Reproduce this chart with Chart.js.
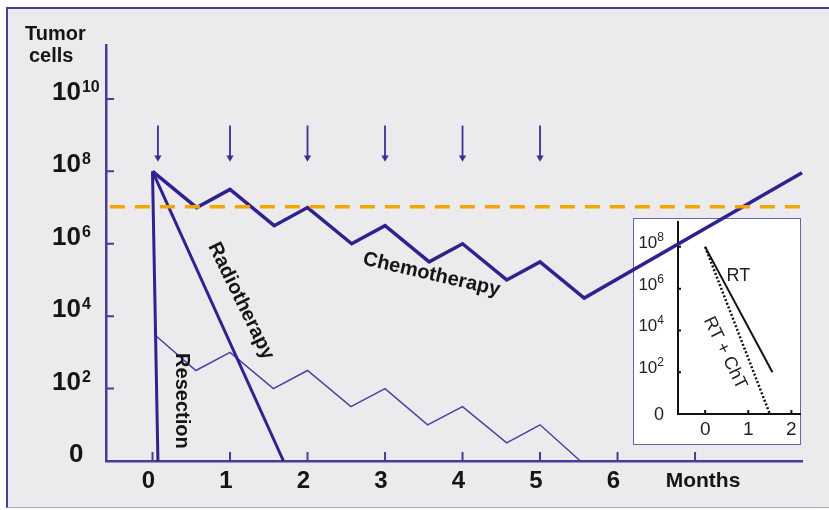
<!DOCTYPE html>
<html>
<head>
<meta charset="utf-8">
<script src="https://cdn.jsdelivr.net/npm/chart.js@4.4.0/dist/chart.umd.min.js"></script>
<style>
  html, body { margin: 0; padding: 0; background: #fff; width: 829px; height: 510px; overflow: hidden; }
  #frame { position: absolute; left: 6px; top: 7px; width: 840px; height: 498px; background: #ebebee;
           border-top: 2px solid #4a3d96; border-left: 2px solid #4a3d96; border-bottom: 1px solid #aaa4c8; }
  #insetBox { position: absolute; left: 633px; top: 218px; width: 166px; height: 225px; background: #fff;
              border: 1px solid #6b60ad; }
  #inset { position: absolute; left: 633px; top: 218px; }
  #main { position: absolute; left: 0; top: 0; }
</style>
</head>
<body>
<div id="frame"></div>
<div id="insetBox"></div>
<canvas id="inset" width="168" height="227"></canvas>
<canvas id="main" width="829" height="510"></canvas>
<script>
// ---- data (months on x, tumor cells as powers of ten on y) ----
const chemoMonths     = [0, 0.57, 1, 1.57, 2, 2.57, 3, 3.57, 4, 4.57, 5, 5.57, 8.38];
const chemoExp        = [8, 7.0, 7.5, 6.5, 7.0, 6.0, 6.5, 5.5, 6.0, 5.0, 5.5, 4.5, 7.96];
const residualMonths  = [0.02, 0.56, 1, 1.56, 2, 2.56, 3, 3.55, 4, 4.57, 5, 5.52];
const residualExp     = [3.5, 2.5, 3.0, 2.0, 2.5, 1.5, 2.0, 1.0, 1.5, 0.5, 1.0, 0];
const resectionMonths = [0, 0.07];
const resectionExp    = [8, 0];
const radioMonths     = [0, 1.69];
const radioExp        = [8, 0];
const thresholdMonths = [-0.55, 8.36];
const thresholdExp    = [7.02, 7.02];
const doseMonths      = [0.07, 1, 2, 3, 4, 5];
const doseExp         = [9.27, 8.38];

const xTickMonths = [0, 1, 2, 3, 4, 5, 6, 7];
const xTickLabels = ['0', '1', '2', '3', '4', '5', '6', ''];
const yTickExp    = [0, 2, 4, 6, 8, 10];

// inset
const rtMonths    = [0, 1.56];
const rtExp       = [8, 2];
const comboMonths = [0, 1.5];
const comboExp    = [8, 0];
const insetXTicks = [0, 1, 2];
const insetYTickExp = [0, 2, 4, 6, 8];

const FONT = '"Liberation Sans", Arial, sans-serif';
const LINE = '#2f2190';
const AXIS = '#4a3d9a';
const INK  = '#151515';

const pts = (xs, es) => xs.map((x, i) => ({ x: x, y: Math.pow(10, es[i]) }));

function lineDs(data, color, width, extra) {
    return Object.assign({
        data: data,
        borderColor: color,
        backgroundColor: color,
        borderWidth: width,
        pointRadius: 0,
        tension: 0,
        clip: false
    }, extra || {});
}

// ---- main chart ----
const datasets = [
    lineDs(pts(thresholdMonths, thresholdExp), '#f5a500', 3.5, { borderDash: [15, 10], order: 0 }),
    lineDs(pts(chemoMonths, chemoExp), LINE, 3.5, { order: 1 }),
    lineDs(pts(radioMonths, radioExp), LINE, 3, { order: 2 }),
    lineDs(pts(resectionMonths, resectionExp), LINE, 3, { order: 2 }),
    lineDs(pts(residualMonths, residualExp), '#4b3fa0', 1.5, { order: 3 })
];
doseMonths.forEach(m => {
    datasets.push(lineDs(pts([m, m], doseExp), '#3b2f94', 1.8, {
        order: 4,
        pointRadius: [0, 4.2],
        pointStyle: 'triangle',
        pointRotation: 180,
        pointBorderWidth: 0
    }));
});

const curveLabels = [
    { text: 'Chemotherapy', month: 3.6, exp: 5.15, angle: 13 },
    { text: 'Radiotherapy', month: 1.14, exp: 4.42, angle: 64 },
    { text: 'Resection', month: 0.38, exp: 1.66, angle: 90 }
];

const mainDecor = {
    id: 'mainDecor',
    afterDraw(chart) {
        const { ctx, scales: { x, y } } = chart;
        ctx.save();
        ctx.strokeStyle = AXIS;
        ctx.lineWidth = 2;
        ctx.beginPath();
        yTickExp.forEach(e => {
            if (e === 0) return;
            const py = y.getPixelForValue(Math.pow(10, e));
            ctx.moveTo(x.left, py); ctx.lineTo(x.left + 8, py);
        });
        xTickMonths.forEach(m => {
            const px = x.getPixelForValue(m);
            ctx.moveTo(px, y.bottom); ctx.lineTo(px, y.bottom - 9);
        });
        ctx.stroke();

        // y tick labels with superscript exponents
        ctx.fillStyle = INK;
        ctx.textAlign = 'left';
        ctx.textBaseline = 'alphabetic';
        yTickExp.forEach(e => {
            const py = y.getPixelForValue(Math.pow(10, e));
            ctx.font = 'bold 26px ' + FONT;
            if (e === 0) {
                ctx.fillText('0', 69, py + 1);
                return;
            }
            ctx.fillText('10', 52, py + 1);
            const w = ctx.measureText('10').width;
            ctx.font = 'bold 16px ' + FONT;
            ctx.fillText(String(e), 52 + w + 1, py - 7);
        });

        // axis titles
        ctx.font = 'bold 20px ' + FONT;
        ctx.fillText('Tumor', 25, 40);
        ctx.fillText('cells', 29, 62);
        ctx.textAlign = 'center';
        ctx.font = 'bold 21px ' + FONT;
        ctx.fillText('Months', x.getPixelForValue(7) + 8, y.bottom + 26);

        // curve labels
        ctx.font = 'bold 20px ' + FONT;
        ctx.textBaseline = 'middle';
        curveLabels.forEach(l => {
            ctx.save();
            ctx.translate(x.getPixelForValue(l.month), y.getPixelForValue(Math.pow(10, l.exp)));
            ctx.rotate(l.angle * Math.PI / 180);
            ctx.fillText(l.text, 0, 0);
            ctx.restore();
        });
        ctx.restore();
    }
};

new Chart(document.getElementById('main'), {
    type: 'line',
    data: { datasets: datasets },
    options: {
        responsive: false,
        animation: false,
        events: [],
        layout: { padding: { top: 45, right: 27, left: 0, bottom: 0 } },
        plugins: { legend: { display: false }, tooltip: { enabled: false } },
        scales: {
            x: {
                type: 'linear',
                min: -0.6,
                max: 8.38,
                grid: { display: false, drawTicks: false },
                border: { display: true, color: AXIS, width: 2.5 },
                afterBuildTicks: s => { s.ticks = xTickMonths.map(v => ({ value: v })); },
                afterFit: s => { s.height = 49; },
                ticks: {
                    autoSkip: false,
                    maxRotation: 0,
                    padding: 6,
                    labelOffset: -4,
                    color: INK,
                    font: { family: FONT, size: 24, weight: 'bold' },
                    callback: v => xTickLabels[xTickMonths.indexOf(v)]
                }
            },
            y: {
                type: 'logarithmic',
                min: 1,
                max: Math.pow(10, 11.49),
                grid: { display: false, drawTicks: false },
                border: { display: true, color: AXIS, width: 2.5 },
                ticks: { display: false },
                afterFit: s => { s.width = 106; }
            }
        }
    },
    plugins: [mainDecor]
});

// ---- inset chart ----
const insetLabels = [
    { text: 'RT', month: 0.77, exp: 6.6, angle: 0 },
    { text: 'RT + ChT', month: 0.46, exp: 2.92, angle: 64 }
];

const insetDecor = {
    id: 'insetDecor',
    afterDraw(chart) {
        const { ctx, scales: { x, y } } = chart;
        ctx.save();
        ctx.strokeStyle = '#111';
        ctx.lineWidth = 2;
        ctx.beginPath();
        insetYTickExp.forEach(e => {
            if (e === 0) return;
            const py = y.getPixelForValue(Math.pow(10, e));
            ctx.moveTo(x.left, py); ctx.lineTo(x.left + 3, py);
        });
        insetXTicks.forEach(m => {
            const px = x.getPixelForValue(m);
            ctx.moveTo(px, y.bottom); ctx.lineTo(px, y.bottom - 4);
        });
        ctx.stroke();

        ctx.fillStyle = '#222';
        ctx.textBaseline = 'alphabetic';
        const right = x.left - 14;
        insetYTickExp.forEach(e => {
            const py = y.getPixelForValue(Math.pow(10, e));
            ctx.textAlign = 'right';
            if (e === 0) {
                ctx.font = '18px ' + FONT;
                ctx.fillText('0', right, py + 6);
                return;
            }
            ctx.font = '12px ' + FONT;
            const ew = ctx.measureText(String(e)).width;
            ctx.fillText(String(e), right, py - 6);
            ctx.font = '17px ' + FONT;
            ctx.fillText('10', right - ew, py + 1);
        });

        ctx.font = '18px ' + FONT;
        ctx.textAlign = 'center';
        ctx.textBaseline = 'middle';
        insetLabels.forEach(l => {
            ctx.save();
            ctx.translate(x.getPixelForValue(l.month), y.getPixelForValue(Math.pow(10, l.exp)));
            ctx.rotate(l.angle * Math.PI / 180);
            ctx.fillText(l.text, 0, 0);
            ctx.restore();
        });
        ctx.restore();
    }
};

new Chart(document.getElementById('inset'), {
    type: 'line',
    data: {
        datasets: [
            lineDs(pts(rtMonths, rtExp), '#111', 2),
            lineDs(pts(comboMonths, comboExp), '#111', 2.5, { borderDash: [2, 2] })
        ]
    },
    options: {
        responsive: false,
        animation: false,
        events: [],
        layout: { padding: { top: 4, right: 1, left: 0, bottom: 0 } },
        plugins: { legend: { display: false }, tooltip: { enabled: false } },
        scales: {
            x: {
                type: 'linear',
                min: -0.63,
                max: 2.2,
                grid: { display: false, drawTicks: false },
                border: { display: true, color: '#111', width: 2 },
                afterBuildTicks: s => { s.ticks = insetXTicks.map(v => ({ value: v })); },
                afterFit: s => { s.height = 31; },
                ticks: {
                    autoSkip: false,
                    maxRotation: 0,
                    padding: 4,
                    color: '#222',
                    font: { family: FONT, size: 19 },
                    callback: v => String(v)
                }
            },
            y: {
                type: 'logarithmic',
                min: 1,
                max: Math.pow(10, 9.19),
                grid: { display: false, drawTicks: false },
                border: { display: true, color: '#111', width: 2 },
                ticks: { display: false },
                afterFit: s => { s.width = 45; }
            }
        }
    },
    plugins: [insetDecor]
});
</script>
</body>
</html>
